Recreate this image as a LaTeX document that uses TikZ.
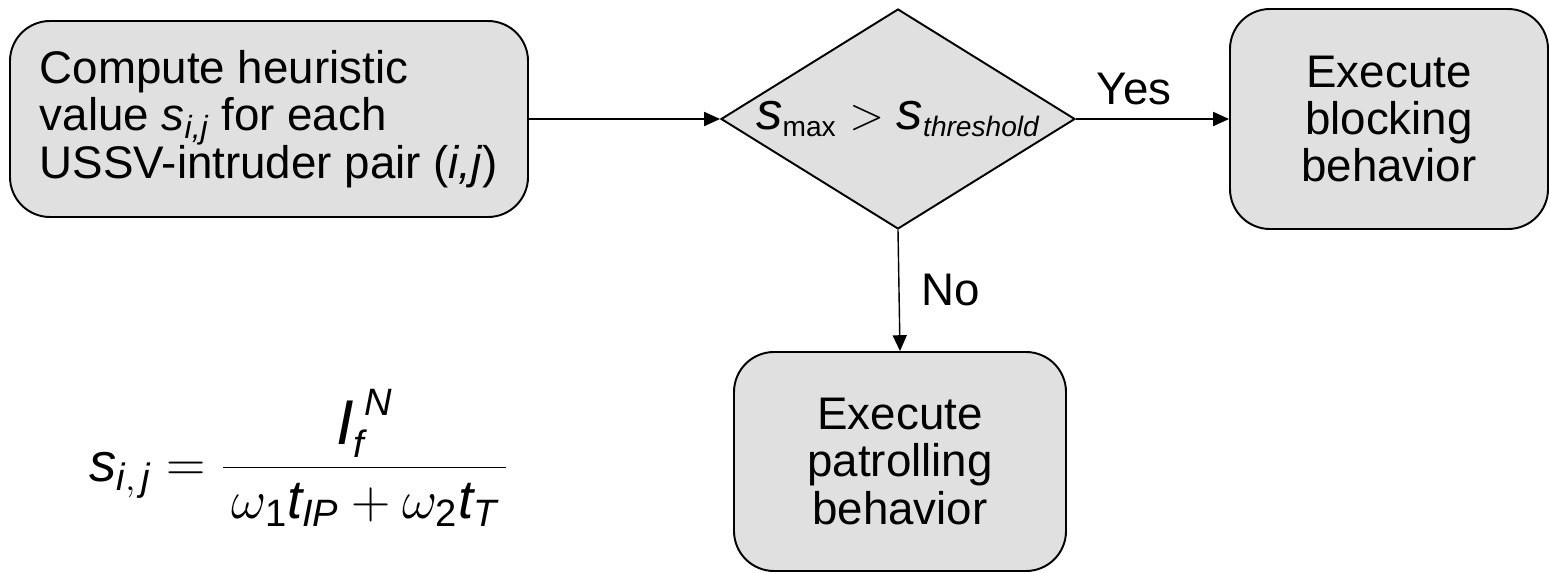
\RequirePackage{fix-cm}
\documentclass[tikz,border=0pt]{standalone}
\usepackage{amsmath}
\usepackage{fontspec}
\setmainfont{Liberation Sans}
\usetikzlibrary{shapes}
\usetikzlibrary{arrows.meta}
\definecolor{boxgray}{RGB}{224,224,224}
\tikzset{
  stepbox/.style={draw, line width=1.1pt, fill=boxgray, rounded corners=0.8cm, align=center},
  decision/.style={draw, line width=1.1pt, fill=boxgray, diamond, inner sep=0pt},
  flow/.style={-{Triangle[length=9pt,width=8pt]}, line width=0.8pt},
}
\newcommand{\bigs}{\text{\fontsize{30}{30}\selectfont\itshape s}}
\newcommand{\smallsub}[1]{\text{\fontsize{16}{16}\selectfont #1}}
\newcommand{\bigI}{\text{\fontsize{36}{36}\selectfont\itshape I}}

\begin{document}
\begin{tikzpicture}[font=\fontsize{26}{27}\selectfont]
\useasboundingbox (0,0) rectangle (31,-11.46);
\node[stepbox, align=left, minimum width=10.36cm, minimum height=3.92cm] (compute) at (5.38,-2.38)
  {Compute heuristic\\ value $\textit{s}_{\textit{i,j}}$ for each\\ USSV-intruder pair (\textit{i,j})};
\node[decision, minimum width=7.08cm, minimum height=4.40cm,
  label={center:$\bigs_{\smallsub{max}} > \bigs_{\smallsub{\itshape threshold}}$}] (test) at (17.96,-2.38) {};
\node[stepbox, minimum width=6.36cm, minimum height=4.40cm] (block) at (27.78,-2.38)
  {Execute\\ blocking\\ behavior};
\node[stepbox, minimum width=6.64cm, minimum height=4.38cm] (patrol) at (18.0,-9.23)
  {Execute\\ patrolling\\ behavior};
\node (eq) at (5.98,-9.16) {\fontsize{31}{31}\selectfont
  $\textit{s}_{\textit{i},\,\textit{j}} = \dfrac{\bigI_{\textit{f}}^{\;\textit{N}}}{\,\omega_{\text{1}}\textit{t}_{\textit{IP}} + \omega_{\text{2}}\textit{t}_{\textit{T}}\,}$};
\draw[flow] (compute.east) -- (test.west);
\draw[flow] (test.east) -- node[above=0.15cm, pos=0.38] (yes) {Yes} (block.west);
\draw[flow] (test.south) -- node[right=0.32cm] (no) {No} (patrol.north);
\end{tikzpicture}
\end{document}
